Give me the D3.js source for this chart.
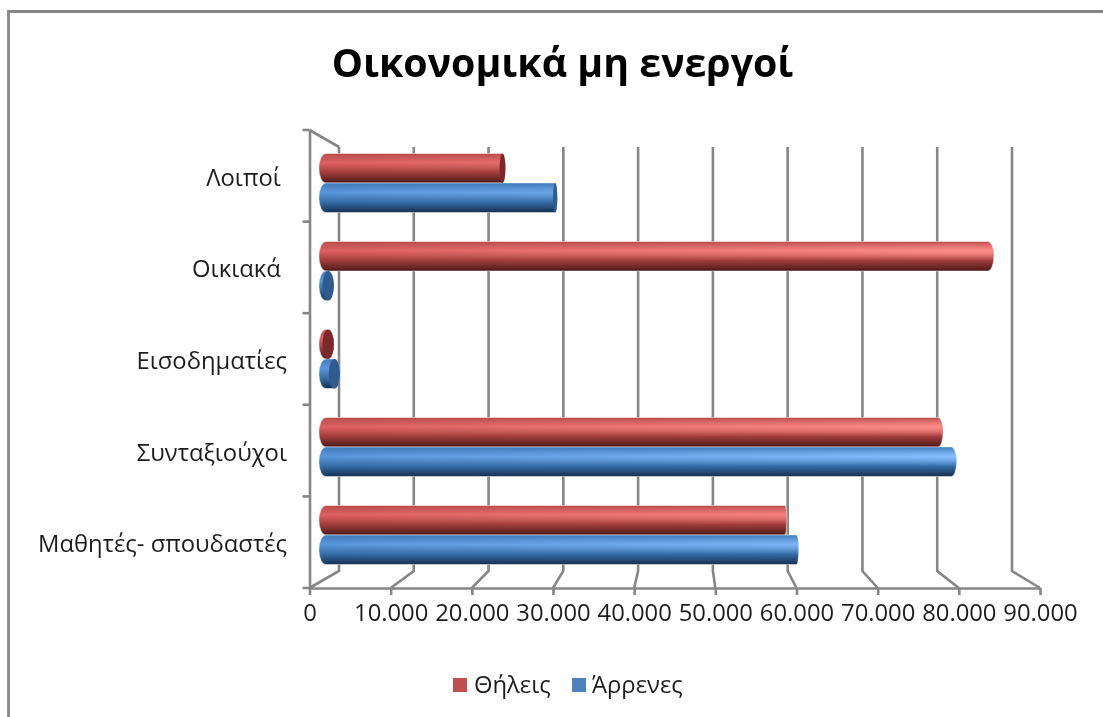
<!DOCTYPE html>
<html><head><meta charset="utf-8">
<script src="https://cdn.jsdelivr.net/npm/d3@7"></script>
<style>
html,body{margin:0;padding:0;background:#fff}
svg{display:block}
text{font-family:"Open Sans","Noto Sans",sans-serif;fill:#1f1f1f;white-space:pre}
</style></head><body><svg id="c" width="1103" height="717"></svg>
<script>
const title = "Οικονομικά μη ενεργοί";
const categories = ["Λοιποί ", "Οικιακά ", "Εισοδηματίες", "Συνταξιούχοι", "Μαθητές- σπουδαστές"];
const seriesNames = ["Θήλεις", "Άρρενες"];
const femaleValues = [22600, 85100, 100, 78700, 59000];
const maleValues = [29400, 100, 900, 80400, 60500];
const xTicks = [0,10000,20000,30000,40000,50000,60000,70000,80000,90000];
const redStops = [[0,"#b84d4b"],[.32,"#dd625f"],[.65,"#a03c3a"],[1,"#4a1a1a"]];
const blueStops = [[0,"#3f78b8"],[.32,"#5c97dc"],[.65,"#356ca6"],[1,"#16304f"]];
const highlightColors = ["#ff8f8c","#86c0ff"];
const seriesColors = ["#c0504d","#4f81bd"];
const capColors = ["#7a2c2b","#2f5b8f"];

const svg = d3.select("#c");
const defs = svg.append("defs");
function grad(id, stops){
  const g = defs.append("linearGradient").attr("id",id).attr("x1",0).attr("y1",0).attr("x2",0).attr("y2",1);
  stops.forEach(s=>g.append("stop").attr("offset",s[0]).attr("stop-color",s[1]));
}
grad("g0",redStops); grad("g1",blueStops);
highlightColors.forEach((col,i)=>{
  const hl = defs.append("linearGradient").attr("id","hl"+i).attr("x1",0).attr("y1",0).attr("x2",0).attr("y2",1);
  [[0,0],[.32,.95],[.65,0]].forEach(s=>hl.append("stop").attr("offset",s[0]).attr("stop-color",col).attr("stop-opacity",s[1]));
});
const mg = defs.append("linearGradient").attr("id","mg").attr("gradientUnits","userSpaceOnUse").attr("x1",320).attr("x2",950).attr("y1",0).attr("y2",0);
[[0,0],[1,1]].forEach(s=>mg.append("stop").attr("offset",s[0]).attr("stop-color","#fff").attr("stop-opacity",s[1]));
const mask = defs.append("mask").attr("id","hm").attr("maskUnits","userSpaceOnUse").attr("x",0).attr("y",0).attr("width",1103).attr("height",717);
mask.append("rect").attr("width",1103).attr("height",717).attr("fill","url(#mg)");
defs.append("filter").attr("id","soft").attr("x","-2%").attr("y","-2%").attr("width","104%").attr("height","104%")
  .append("feGaussianBlur").attr("stdDeviation",0.6);

const root = svg.append("g").attr("filter","url(#soft)");

// frame
const grey = "#868686";
root.append("path").attr("d",d3.line()([[8.5,717],[8.5,11.5],[1103,11.5]])).attr("fill","none").attr("stroke",grey).attr("stroke-width",2.8);

// scales
const front = d3.scaleLinear().domain([0,90000]).range([309.5,1040]);
const back = d3.scaleLinear().domain([0,90000]).range([339,1012]);
const mid = d3.scaleLinear().domain([0,90000]).range([326,1026]);
const yFront = d3.scaleBand().domain(categories).range([130,588]);
const yBars = d3.scaleBand().domain(categories).range([139,579]);
const ySub = d3.scaleBand().domain(seriesNames).range([14.5,73.5]);
const yFloor=588, yFloorBack=571, yBackTop=147;
const lineW = 2.6;

// walls
const walls = root.append("g").attr("fill","none").attr("stroke",grey).attr("stroke-width",lineW);
walls.selectAll("path.w").data(xTicks).join("path").attr("class","w")
  .attr("d",t=>d3.line()([[back(t),yBackTop],[back(t),yFloorBack],[front(t),yFloor]]));
walls.append("path").attr("d",d3.line()([[front(0),yFront.range()[0]],[back(0),yBackTop]]));

// x axis
const loc = d3.formatLocale({decimal:",",thousands:".",grouping:[3],currency:["€",""]});
const xAxis = root.append("g").attr("transform",`translate(0,${yFloor})`)
  .call(d3.axisBottom(front).tickValues(xTicks).tickFormat(loc.format(",d")).tickSize(7).tickSizeOuter(0).tickPadding(13));
xAxis.selectAll("path,line").attr("stroke",grey).attr("stroke-width",lineW);
xAxis.selectAll("text").attr("font-size",23.8).attr("font-family",null).attr("dy","0.55em");

// y axis
const yAxis = root.append("g").attr("transform",`translate(${front(0)},0)`)
  .call(d3.axisLeft(yFront).tickSize(0).tickPadding(22.5));
yAxis.selectAll("path").attr("stroke",grey).attr("stroke-width",lineW);
yAxis.selectAll("text").attr("font-size",23.8).attr("font-family",null).attr("dy","0.42em");
const yEdges = categories.map(c=>yFront(c)).concat([yFront.range()[1]]);
root.append("g").selectAll("line").data(yEdges).join("line")
  .attr("x1",front(0)-7).attr("x2",front(0)).attr("y1",d=>d).attr("y2",d=>d).attr("stroke",grey).attr("stroke-width",lineW);

// bars
const vpX = 687, capK = 0.0198;
const capR = x => Math.abs(x-vpX)*capK;
const rows = [];
categories.forEach((c,i)=>{
  rows.push({c,s:0,v:femaleValues[i]});
  rows.push({c,s:1,v:maleValues[i]});
});
function shape(d){
  const x0=mid(0), x1=mid(d.v), r0=capR(x0), r1=capR(x1);
  const h=ySub.bandwidth(), y=yBars(d.c)+ySub(seriesNames[d.s]);
  return `M${x0},${y}L${x1},${y}A${r1},${h/2} 0 0 1 ${x1},${y+h}L${x0},${y+h}A${r0},${h/2} 0 0 1 ${x0},${y}Z`;
}
const bars = root.append("g");
bars.selectAll("path.b").data(rows).join("path").attr("class","b").attr("d",shape)
  .attr("fill",d=>`url(#g${d.s})`).attr("stroke","#fff").attr("stroke-opacity",.6).attr("stroke-width",.8);
bars.append("g").attr("mask","url(#hm)").selectAll("path").data(rows).join("path").attr("d",shape).attr("fill",d=>`url(#hl${d.s})`);
bars.selectAll("ellipse").data(rows.filter(d=>mid(d.v)<vpX)).join("ellipse")
  .attr("cx",d=>mid(d.v)+capR(mid(d.v))*0.2).attr("cy",d=>yBars(d.c)+ySub(seriesNames[d.s])+ySub.bandwidth()/2)
  .attr("rx",d=>capR(mid(d.v))*0.8).attr("ry",ySub.bandwidth()/2)
  .attr("fill",d=>capColors[d.s]);

// title
root.append("text").attr("x",562.5).attr("y",77).attr("text-anchor","middle")
  .attr("font-size",39.3).attr("font-weight",700).attr("style","fill:#000").text(title);

// legend
const legendX=[453,572], legendTextX=[474,592];
const leg = root.append("g");
leg.selectAll("rect").data(seriesNames).join("rect").attr("x",(d,i)=>legendX[i]).attr("y",678).attr("width",14).attr("height",14).attr("fill",(d,i)=>seriesColors[i]);
leg.selectAll("text").data(seriesNames).join("text").attr("x",(d,i)=>legendTextX[i]).attr("y",693).attr("font-size",23.8).text(d=>d);
</script></body></html>
